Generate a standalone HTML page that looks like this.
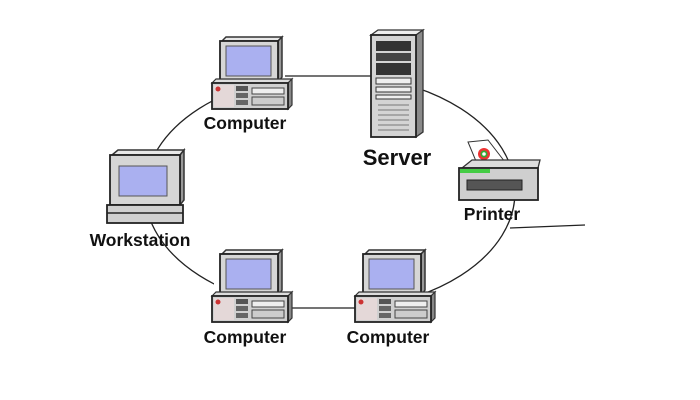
<!DOCTYPE html>
<html><head><style>
html,body{margin:0;padding:0;background:#fff;}
svg{display:block;}
text{font-family:"Liberation Sans",sans-serif;font-weight:bold;fill:#111;}
</style></head><body>
<svg width="700" height="400" viewBox="0 0 700 400" xmlns="http://www.w3.org/2000/svg">
<defs>
<clipPath id="cl"><rect x="0" y="0" width="214" height="400"/><rect x="416" y="0" width="300" height="400"/></clipPath>
<g id="pc">
  <polygon points="10,4 14,0 70,0 66,4" fill="#e8e8e8" stroke="#333" stroke-width="1.5"/>
  <polygon points="66,4 70,0 70,40 66,46" fill="#999" stroke="#333" stroke-width="1.5"/>
  <rect x="8" y="4" width="58" height="42" fill="#d6d6d6" stroke="#222" stroke-width="1.8"/>
  <rect x="14" y="9" width="45" height="30" fill="#aab0f0" stroke="#555"/>
  <polygon points="0,46 4,42 80,42 76,46" fill="#ddd" stroke="#333" stroke-width="1.2"/>
  <polygon points="76,46 80,42 80,68 76,72" fill="#888" stroke="#333" stroke-width="1.2"/>
  <rect x="0" y="46" width="76" height="26" fill="#d0d0d0" stroke="#222" stroke-width="1.8"/>
  <rect x="2" y="48" width="20" height="22" fill="#e4d8d8"/>
  <circle cx="6" cy="52" r="2.5" fill="#c33"/>
  <rect x="24" y="49" width="12" height="5" fill="#555"/>
  <rect x="24" y="56" width="12" height="5" fill="#666"/>
  <rect x="24" y="63" width="12" height="5" fill="#666"/>
  <rect x="40" y="51" width="32" height="6" fill="#eee" stroke="#444"/>
  <rect x="40" y="60" width="32" height="8" fill="#ccc" stroke="#444"/>
</g>
</defs>
<ellipse cx="330" cy="192" rx="185" ry="118" fill="none" stroke="#222" stroke-width="1.3" clip-path="url(#cl)"/>
<line x1="285" y1="76" x2="372" y2="76" stroke="#222" stroke-width="1.3"/>
<line x1="285" y1="308" x2="358" y2="308" stroke="#222" stroke-width="1.3"/>
<line x1="510" y1="228" x2="585" y2="225" stroke="#222" stroke-width="1.3"/>

<use href="#pc" x="212" y="37"/>
<use href="#pc" x="212" y="250"/>
<use href="#pc" x="355" y="250"/>

<polygon points="371,35 378,30 423,30 416,35" fill="#eee" stroke="#333" stroke-width="1.3"/>
<polygon points="416,35 423,30 423,132 416,137" fill="#8a8a8a" stroke="#333" stroke-width="1.3"/>
<rect x="371" y="35" width="45" height="102" fill="#d4d4d4" stroke="#222" stroke-width="1.8"/>
<rect x="376" y="41" width="35" height="10" fill="#333"/>
<rect x="376" y="53" width="35" height="8" fill="#444"/>
<rect x="376" y="63" width="35" height="12" fill="#333"/>
<rect x="376" y="78" width="35" height="6" fill="#eee" stroke="#333"/>
<rect x="376" y="87" width="35" height="5" fill="#eee" stroke="#333"/>
<rect x="376" y="95" width="35" height="4" fill="#eee" stroke="#333"/>
<g stroke="#777" stroke-width="1">
<line x1="378" y1="105" x2="409" y2="105"/><line x1="378" y1="110" x2="409" y2="110"/>
<line x1="378" y1="115" x2="409" y2="115"/><line x1="378" y1="120" x2="409" y2="120"/>
<line x1="378" y1="125" x2="409" y2="125"/><line x1="378" y1="130" x2="409" y2="130"/>
</g>

<polygon points="112,155 118,150 184,150 180,155" fill="#e8e8e8" stroke="#333" stroke-width="1.5"/>
<polygon points="180,155 184,150 184,200 180,205" fill="#999" stroke="#333" stroke-width="1.5"/>
<rect x="110" y="155" width="70" height="50" fill="#d6d6d6" stroke="#222" stroke-width="1.8"/>
<rect x="119" y="166" width="48" height="30" fill="#aab0f0" stroke="#555"/>
<rect x="107" y="205" width="76" height="18" fill="#d0d0d0" stroke="#222" stroke-width="1.8"/>
<line x1="107" y1="213" x2="183" y2="213" stroke="#222" stroke-width="1.5"/>

<polygon points="468,142 488,140 505,162 478,166" fill="#fff" stroke="#333"/>
<circle cx="484" cy="154" r="6" fill="#e33"/><circle cx="484" cy="154" r="3.5" fill="#3a3"/><circle cx="484" cy="154" r="1.8" fill="#fff"/>
<polygon points="462,168 472,160 540,160 538,168" fill="#ddd" stroke="#333" stroke-width="1.3"/>
<rect x="459" y="168" width="79" height="32" fill="#cfcfcf" stroke="#222" stroke-width="1.8"/>
<rect x="460" y="169" width="30" height="4" fill="#4c4"/>
<rect x="467" y="180" width="55" height="10" fill="#555" stroke="#222"/>

<text x="245" y="129" font-size="17.5" text-anchor="middle">Computer</text>
<text x="397" y="165" font-size="22" text-anchor="middle">Server</text>
<text x="140" y="246" font-size="17.5" text-anchor="middle">Workstation</text>
<text x="492" y="220" font-size="17.5" text-anchor="middle">Printer</text>
<text x="245" y="343" font-size="17.5" text-anchor="middle">Computer</text>
<text x="388" y="343" font-size="17.5" text-anchor="middle">Computer</text>
</svg>
</body></html>
